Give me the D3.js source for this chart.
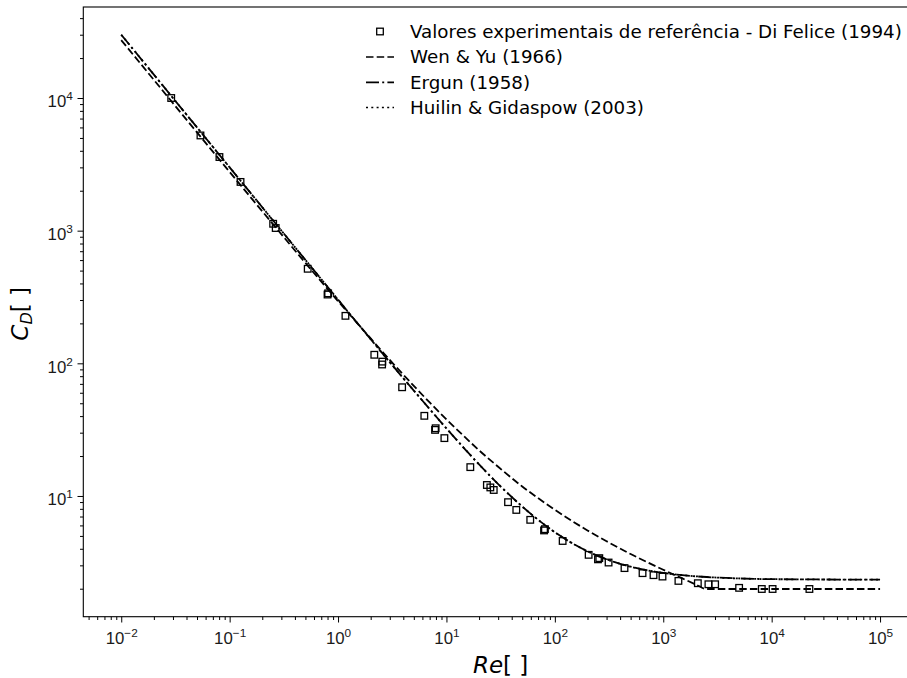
<!DOCTYPE html>
<html>
<head>
<meta charset="utf-8">
<script src="https://cdn.jsdelivr.net/npm/d3@7"></script>
<style>
  html, body { margin: 0; padding: 0; background: #fff; }
  svg { display: block; font-family: "DejaVu Sans", sans-serif; }
</style>
</head>
<body>
<svg id="chart" width="907" height="678"></svg>
<script>
// Experimental drag coefficients (Di Felice, 1994)
const expRe = [0.0289, 0.0538, 0.0805, 0.126, 0.252, 0.266, 0.525, 0.80, 0.81, 1.17,
  2.16, 2.55, 2.56, 3.90, 6.25, 7.85, 7.95, 9.57, 16.6, 23.6, 25.4, 27.3, 37.0, 44.1,
  59.3, 79.5, 81.0, 118, 205, 250, 257, 313, 439, 644, 813, 984, 1380, 2085, 2610,
  3010, 5010, 8110, 10200, 22300];
const expCd = [10000, 5220, 3590, 2330, 1127, 1047, 516, 330, 337, 228,
  116, 98, 103, 66, 40.2, 31.5, 32.4, 27.3, 16.5, 12.1, 11.6, 11.1, 8.98, 7.85,
  6.61, 5.5, 5.62, 4.58, 3.60, 3.33, 3.40, 3.15, 2.86, 2.62, 2.53, 2.47, 2.29, 2.20, 2.16,
  2.16, 2.03, 1.99, 1.99, 1.99];

// Correlation curves, sampled along Re
const curveRe = [0.01, 0.02, 0.05, 0.1, 0.2, 0.5, 1, 2, 3, 5, 7, 10, 15, 20, 30, 50, 70,
  100, 150, 200, 300, 500, 700, 1000, 1500, 2000, 2500, 5000, 10000, 100000];
const wenYuCd = [27300, 13700, 5500, 2770, 1400, 571, 294, 154, 106, 67.6, 50.7, 37.8,
  27.5, 22.1, 16.6, 11.8, 9.64, 7.87, 6.35, 5.50, 4.56, 3.65, 3.19, 2.78, 2.39, 2.15,
  1.99, 1.99, 1.99, 1.99];
const ergunCd = [30000, 15000, 6000, 3000, 1500, 602, 302, 152, 102, 62.3, 45.2, 32.3,
  22.3, 17.3, 12.3, 8.33, 6.62, 5.33, 4.33, 3.83, 3.33, 2.93, 2.76, 2.63, 2.53, 2.48,
  2.45, 2.39, 2.36, 2.34];
const huilinCd = [30000, 15000, 6000, 3000, 1500, 602, 302, 152, 102, 62.3, 45.2, 32.3,
  22.3, 17.3, 12.3, 8.33, 6.62, 5.33, 4.33, 3.83, 3.33, 2.93, 2.76, 2.63, 2.53, 2.48,
  2.45, 2.39, 2.36, 2.34];

const xMajor = [-2, -1, 0, 1, 2, 3, 4, 5];
const yMajor = [1, 2, 3, 4];

const legendLabels = [
  "Valores experimentais de referência - Di Felice (1994)",
  "Wen & Yu (1966)",
  "Ergun (1958)",
  "Huilin & Gidaspow (2003)"
];

// ---- layout ----
const svg = d3.select("#chart");
const axLeft = 83.3, axRight = 918, axTop = 7, axBottom = 616.7;

const x = d3.scaleLog().domain([Math.pow(10, -2.35), Math.pow(10, 5.35)]).range([axLeft, axRight]);
const y = d3.scaleLog().domain([Math.pow(10, 0.090), Math.pow(10, 4.686)]).range([axBottom, axTop]);

const dashed = "7.5,3.2";
const dashDot = "13,3.2,2,3.2";
const dotted = "2,3.3";

// minor tick positions
function minors(lo, hi) {
  const out = [];
  for (let e = lo; e <= hi; e++) for (let m = 2; m <= 9; m++) out.push(m * Math.pow(10, e));
  return out;
}
const xMinor = minors(-3, 5).filter(v => v >= x.domain()[0] && v <= x.domain()[1]);
const yMinor = minors(0, 4).filter(v => v >= y.domain()[0] && v <= y.domain()[1]);

// ---- axes ----
function styleAxis(g) {
  g.select(".domain").remove();
  g.selectAll(".tick line").attr("stroke", "#000").attr("stroke-width", 1);
}
svg.append("g").attr("transform", `translate(0,${axBottom})`)
  .call(d3.axisBottom(x).tickValues(xMinor).tickSize(3.3).tickFormat(() => ""))
  .call(styleAxis);
svg.append("g").attr("transform", `translate(${axLeft},0)`)
  .call(d3.axisLeft(y).tickValues(yMinor).tickSize(3.3).tickFormat(() => ""))
  .call(styleAxis);

const gx = svg.append("g").attr("transform", `translate(0,${axBottom})`)
  .call(d3.axisBottom(x).tickValues(xMajor.map(e => Math.pow(10, e))).tickSize(5.8).tickFormat(() => ""))
  .call(styleAxis);
const gy = svg.append("g").attr("transform", `translate(${axLeft},0)`)
  .call(d3.axisLeft(y).tickValues(yMajor.map(e => Math.pow(10, e))).tickSize(5.8).tickFormat(() => ""))
  .call(styleAxis);

function powLabel(sel, exp) {
  sel.append("tspan").text("10");
  sel.append("tspan").attr("font-size", "11.8px").attr("dy", "-7")
    .text(exp < 0 ? "\u2212" + (-exp) : String(exp));
}
gx.selectAll(".tick").each(function (d) {
  const t = d3.select(this).append("text")
    .attr("y", 27.3).attr("text-anchor", "middle")
    .attr("fill", "#1a1a1a").attr("font-size", "16.8px");
  powLabel(t, Math.round(Math.log10(d)));
});
gy.selectAll(".tick").each(function (d) {
  const t = d3.select(this).append("text")
    .attr("x", -10.5).attr("y", 8.8).attr("text-anchor", "end")
    .attr("fill", "#1a1a1a").attr("font-size", "16.8px");
  powLabel(t, Math.round(Math.log10(d)));
});

// spines
svg.append("rect").attr("x", axLeft).attr("y", axTop)
  .attr("width", axRight - axLeft).attr("height", axBottom - axTop)
  .attr("fill", "none").attr("stroke", "#000").attr("stroke-width", 1.1);

// axis labels
const xl = svg.append("text").attr("x", (axLeft + axRight) / 2).attr("y", 673)
  .attr("text-anchor", "middle").attr("font-size", "23px").attr("fill", "#000");
xl.append("tspan").attr("font-style", "italic").text("Re");
xl.append("tspan").text("[ ]");

const yl = svg.append("text")
  .attr("transform", `translate(28,${(axTop + axBottom) / 2 + 2}) rotate(-90)`)
  .attr("text-anchor", "middle").attr("font-size", "23px").attr("fill", "#000");
yl.append("tspan").attr("font-style", "italic").text("C");
yl.append("tspan").attr("font-style", "italic").attr("font-size", "16px").attr("dy", 4).text("D");
yl.append("tspan").attr("dy", -4).text("[ ]");

// ---- data ----
const plot = svg.append("g");
const msize = 6.6;
plot.selectAll("rect.pt").data(expRe.map((r, i) => [r, expCd[i]])).enter()
  .append("rect").attr("class", "pt")
  .attr("x", d => x(d[0]) - msize / 2).attr("y", d => y(d[1]) - msize / 2)
  .attr("width", msize).attr("height", msize)
  .attr("fill", "none").attr("stroke", "#000").attr("stroke-width", 1.3);

const line = d3.line().x(d => x(d[0])).y(d => y(d[1])).curve(d3.curveMonotoneX);
function drawCurve(vals, dash) {
  plot.append("path").datum(curveRe.map((r, i) => [r, vals[i]]))
    .attr("d", line).attr("fill", "none").attr("stroke", "#000")
    .attr("stroke-width", 1.8).attr("stroke-dasharray", dash);
}
drawCurve(wenYuCd, dashed);
drawCurve(ergunCd, dashDot);
drawCurve(huilinCd, dotted);

// ---- legend ----
const lg = svg.append("g");
const rowsY = [31.5, 57, 82.3, 107.5];
const styles = [null, dashed, dashDot, dotted];
legendLabels.forEach((lab, i) => {
  const yy = rowsY[i];
  if (i === 0) {
    lg.append("rect").attr("x", 380 - msize / 2).attr("y", yy - msize / 2)
      .attr("width", msize).attr("height", msize)
      .attr("fill", "none").attr("stroke", "#000").attr("stroke-width", 1.3);
  } else {
    lg.append("line").attr("x1", 366).attr("x2", 394).attr("y1", yy).attr("y2", yy)
      .attr("stroke", "#000").attr("stroke-width", 1.7).attr("stroke-dasharray", styles[i]);
  }
  lg.append("text").attr("x", 410).attr("y", yy + 6.4)
    .attr("font-size", "18.3px").attr("fill", "#000").text(lab);
});
</script>
</body>
</html>
